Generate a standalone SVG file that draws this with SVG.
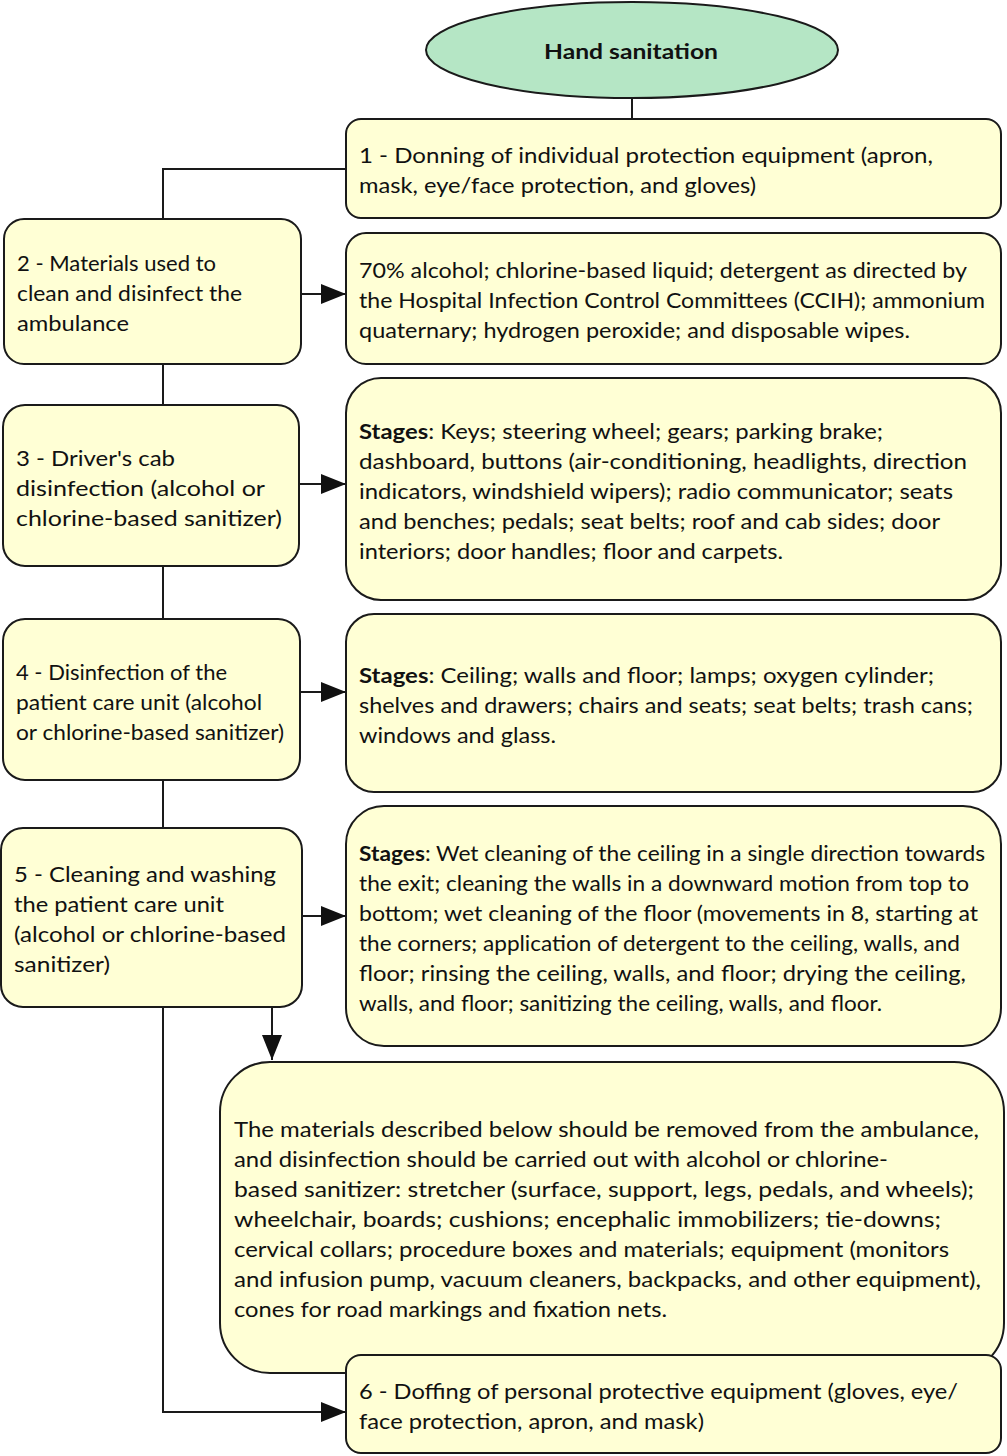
<svg xmlns="http://www.w3.org/2000/svg" width="1007" height="1456" viewBox="0 0 1007 1456">
<style>
.box{fill:#ffffd5;stroke:#1a1a1a;stroke-width:2}
.ell{fill:#b5e6c5;stroke:#1a1a1a;stroke-width:2}
.t{font-family:Lato,"Liberation Sans",sans-serif;font-size:20.5px;fill:#111}
.b{font-weight:700}
.c{fill:none;stroke:#1a1a1a;stroke-width:2}
</style>
<defs>
<marker id="ah" markerUnits="userSpaceOnUse" markerWidth="25" markerHeight="20" refX="25" refY="10" orient="auto">
<path d="M0,0 L25,10 L0,20 z" fill="#111"/>
</marker>
</defs>
<rect width="1007" height="1456" fill="#fff"/>
<g id="connectors">
<path class="c" d="M632,98 V119"/>
<path class="c" d="M346,169 H163 V219"/>
<path class="c" d="M301,294 H346" marker-end="url(#ah)"/>
<path class="c" d="M163,364 V405"/>
<path class="c" d="M299,484 H346" marker-end="url(#ah)"/>
<path class="c" d="M163,566 V619"/>
<path class="c" d="M300,692 H346" marker-end="url(#ah)"/>
<path class="c" d="M163,780 V828"/>
<path class="c" d="M302,916 H346" marker-end="url(#ah)"/>
<path class="c" d="M272,1007 V1060" marker-end="url(#ah)"/>
<path class="c" d="M163,1007 V1412 H346" marker-end="url(#ah)"/>
</g>
<g id="start">
<ellipse class="ell" cx="632" cy="50" rx="206" ry="48"/>
<text class="t b" x="631" y="59" text-anchor="middle" font-size="21" textLength="174" lengthAdjust="spacingAndGlyphs">Hand sanitation</text>
</g>
<g id="step1">
<rect class="box" x="346" y="119" width="655" height="99" rx="15"/>
<text class="t" x="359" y="163" textLength="574" lengthAdjust="spacingAndGlyphs">1 - Donning of individual protection equipment (apron,</text>
<text class="t" x="359" y="193" textLength="397" lengthAdjust="spacingAndGlyphs">mask, eye/face protection, and gloves)</text>
</g>
<g id="step2">
<rect class="box" x="4" y="219" width="297" height="145" rx="20"/>
<text class="t" x="17" y="271" textLength="199" lengthAdjust="spacingAndGlyphs">2 - Materials used to</text>
<text class="t" x="17" y="301" textLength="225" lengthAdjust="spacingAndGlyphs">clean and disinfect the</text>
<text class="t" x="17" y="331" textLength="112" lengthAdjust="spacingAndGlyphs">ambulance</text>
</g>
<g id="materials">
<rect class="box" x="346" y="233" width="655" height="131" rx="20"/>
<text class="t" x="359" y="278" textLength="608" lengthAdjust="spacingAndGlyphs">70% alcohol; chlorine-based liquid; detergent as directed by</text>
<text class="t" x="359" y="308" textLength="626" lengthAdjust="spacingAndGlyphs">the Hospital Infection Control Committees (CCIH); ammonium</text>
<text class="t" x="359" y="338" textLength="551" lengthAdjust="spacingAndGlyphs">quaternary; hydrogen peroxide; and disposable wipes.</text>
</g>
<g id="step3">
<rect class="box" x="3" y="405" width="296" height="161" rx="22"/>
<text class="t" x="16" y="466" textLength="159" lengthAdjust="spacingAndGlyphs">3 - Driver's cab</text>
<text class="t" x="16" y="496" textLength="249" lengthAdjust="spacingAndGlyphs">disinfection (alcohol or</text>
<text class="t" x="16" y="526" textLength="266" lengthAdjust="spacingAndGlyphs">chlorine-based sanitizer)</text>
</g>
<g id="stages3">
<rect class="box" x="346" y="378" width="655" height="222" rx="35"/>
<text class="t" x="359" y="439" textLength="524" lengthAdjust="spacingAndGlyphs"><tspan class="b">Stages</tspan>: Keys; steering wheel; gears; parking brake;</text>
<text class="t" x="359" y="469" textLength="608" lengthAdjust="spacingAndGlyphs">dashboard, buttons (air-conditioning, headlights, direction</text>
<text class="t" x="359" y="499" textLength="594" lengthAdjust="spacingAndGlyphs">indicators, windshield wipers); radio communicator; seats</text>
<text class="t" x="359" y="529" textLength="581" lengthAdjust="spacingAndGlyphs">and benches; pedals; seat belts; roof and cab sides; door</text>
<text class="t" x="359" y="559" textLength="424" lengthAdjust="spacingAndGlyphs">interiors; door handles; floor and carpets.</text>
</g>
<g id="step4">
<rect class="box" x="3" y="619" width="297" height="161" rx="22"/>
<text class="t" x="16" y="680" textLength="211" lengthAdjust="spacingAndGlyphs">4 - Disinfection of the</text>
<text class="t" x="16" y="710" textLength="246" lengthAdjust="spacingAndGlyphs">patient care unit (alcohol</text>
<text class="t" x="16" y="740" textLength="268" lengthAdjust="spacingAndGlyphs">or chlorine-based sanitizer)</text>
</g>
<g id="stages4">
<rect class="box" x="346" y="614" width="655" height="178" rx="28"/>
<text class="t" x="359" y="683" textLength="575" lengthAdjust="spacingAndGlyphs"><tspan class="b">Stages</tspan>: Ceiling; walls and floor; lamps; oxygen cylinder;</text>
<text class="t" x="359" y="713" textLength="614" lengthAdjust="spacingAndGlyphs">shelves and drawers; chairs and seats; seat belts; trash cans;</text>
<text class="t" x="359" y="743" textLength="197" lengthAdjust="spacingAndGlyphs">windows and glass.</text>
</g>
<g id="step5">
<rect class="box" x="1" y="828" width="301" height="179" rx="22"/>
<text class="t" x="14" y="882" textLength="262" lengthAdjust="spacingAndGlyphs">5 - Cleaning and washing</text>
<text class="t" x="14" y="912" textLength="210" lengthAdjust="spacingAndGlyphs">the patient care unit</text>
<text class="t" x="14" y="942" textLength="272" lengthAdjust="spacingAndGlyphs">(alcohol or chlorine-based</text>
<text class="t" x="14" y="972" textLength="96" lengthAdjust="spacingAndGlyphs">sanitizer)</text>
</g>
<g id="stages5">
<rect class="box" x="346" y="806" width="655" height="240" rx="38"/>
<text class="t" x="359" y="861" textLength="626" lengthAdjust="spacingAndGlyphs"><tspan class="b">Stages</tspan>: Wet cleaning of the ceiling in a single direction towards</text>
<text class="t" x="359" y="891" textLength="610" lengthAdjust="spacingAndGlyphs">the exit; cleaning the walls in a downward motion from top to</text>
<text class="t" x="359" y="921" textLength="619" lengthAdjust="spacingAndGlyphs">bottom; wet cleaning of the floor (movements in 8, starting at</text>
<text class="t" x="359" y="951" textLength="601" lengthAdjust="spacingAndGlyphs">the corners; application of detergent to the ceiling, walls, and</text>
<text class="t" x="359" y="981" textLength="607" lengthAdjust="spacingAndGlyphs">floor; rinsing the ceiling, walls, and floor; drying the ceiling,</text>
<text class="t" x="359" y="1011" textLength="523" lengthAdjust="spacingAndGlyphs">walls, and floor; sanitizing the ceiling, walls, and floor.</text>
</g>
<g id="removed">
<rect class="box" x="220" y="1062" width="784" height="311" rx="50"/>
<text class="t" x="234" y="1137" textLength="745" lengthAdjust="spacingAndGlyphs">The materials described below should be removed from the ambulance,</text>
<text class="t" x="234" y="1167" textLength="654" lengthAdjust="spacingAndGlyphs">and disinfection should be carried out with alcohol or chlorine-</text>
<text class="t" x="234" y="1197" textLength="740" lengthAdjust="spacingAndGlyphs">based sanitizer: stretcher (surface, support, legs, pedals, and wheels);</text>
<text class="t" x="234" y="1227" textLength="707" lengthAdjust="spacingAndGlyphs">wheelchair, boards; cushions; encephalic immobilizers; tie-downs;</text>
<text class="t" x="234" y="1257" textLength="715" lengthAdjust="spacingAndGlyphs">cervical collars; procedure boxes and materials; equipment (monitors</text>
<text class="t" x="234" y="1287" textLength="747" lengthAdjust="spacingAndGlyphs">and infusion pump, vacuum cleaners, backpacks, and other equipment),</text>
<text class="t" x="234" y="1317" textLength="433" lengthAdjust="spacingAndGlyphs">cones for road markings and fixation nets.</text>
</g>
<g id="step6">
<rect class="box" x="346" y="1355" width="655" height="98" rx="15"/>
<text class="t" x="359" y="1399" textLength="599" lengthAdjust="spacingAndGlyphs">6 - Doffing of personal protective equipment (gloves, eye/</text>
<text class="t" x="359" y="1429" textLength="345" lengthAdjust="spacingAndGlyphs">face protection, apron, and mask)</text>
</g>
</svg>
